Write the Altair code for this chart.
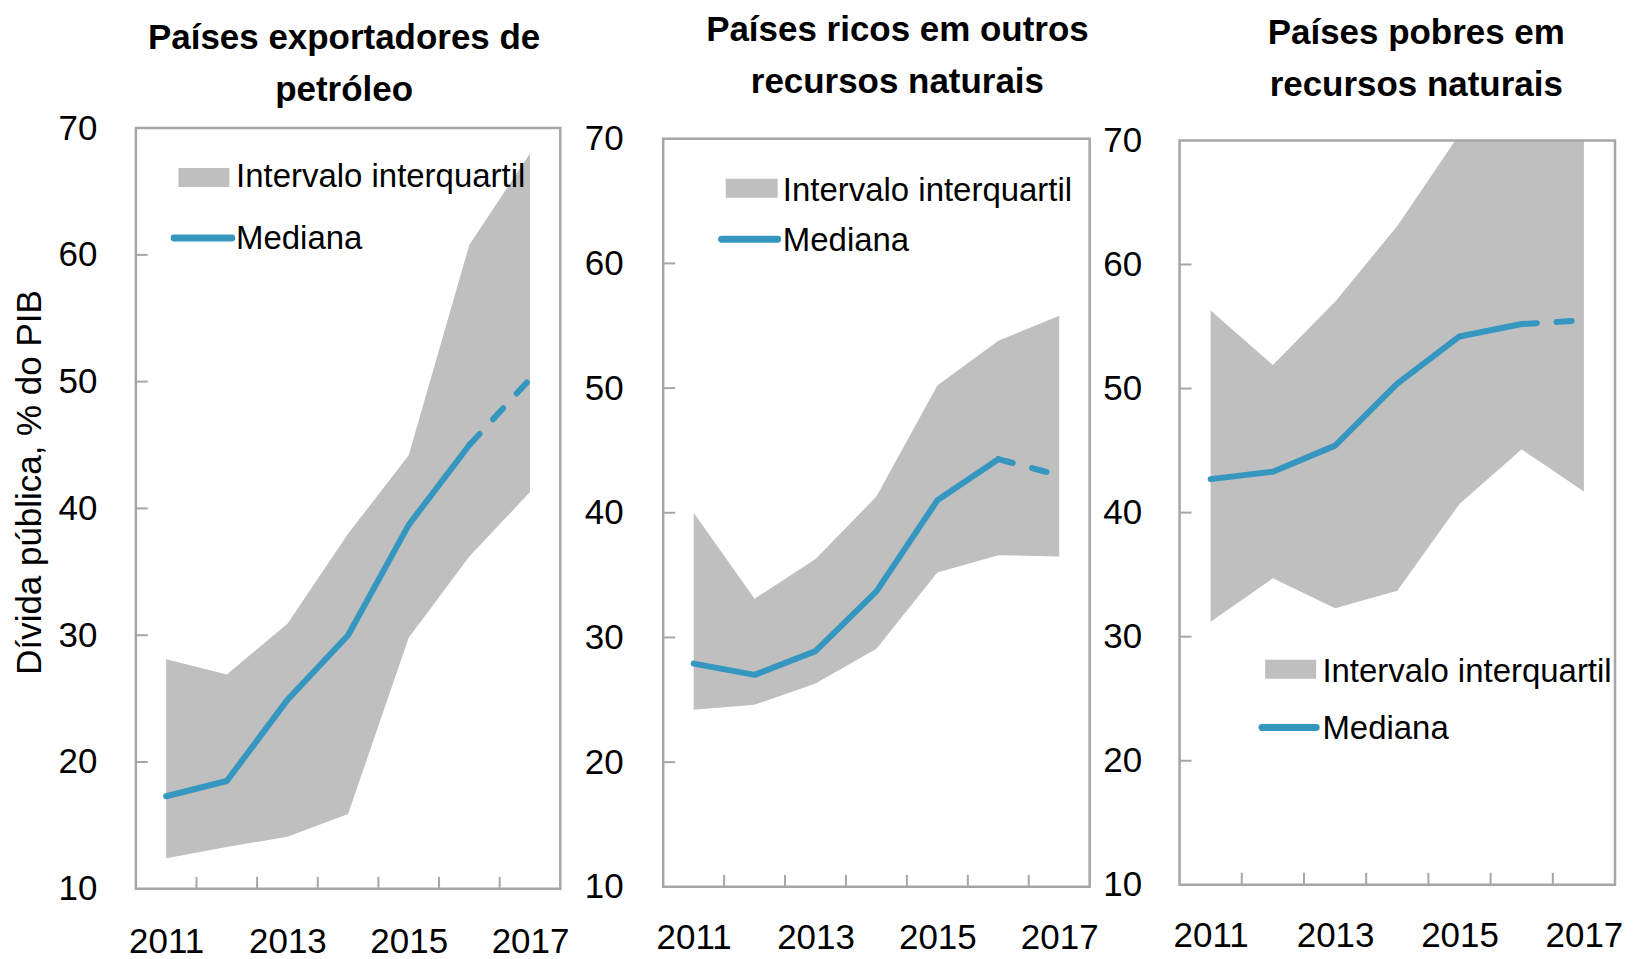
import altair as alt
import pandas as pd

years = [2011, 2012, 2013, 2014, 2015, 2016, 2017]

# Painel 1: Países exportadores de petróleo
p1_lo = [12.4, 13.3, 14.1, 15.9, 29.8, 36.2, 41.3]
p1_hi = [28.1, 26.9, 30.9, 38.0, 44.2, 60.8, 68.0]
p1_med = [17.3, 18.5, 24.9, 30.0, 38.7, 45.0, 50.2]

# Painel 2: Países ricos em outros recursos naturais
p2_lo = [24.2, 24.6, 26.3, 29.1, 35.2, 36.6, 36.5]
p2_hi = [40.0, 33.1, 36.3, 41.3, 50.2, 53.8, 55.8]
p2_med = [27.9, 27.0, 28.9, 33.7, 41.0, 44.3, 43.0]

# Painel 3: Países pobres em recursos naturais
p3_lo = [31.2, 34.7, 32.3, 33.7, 40.7, 45.1, 41.7]
p3_hi = [56.3, 51.9, 57.0, 63.1, 70.5, 74.0, 77.0]
p3_med = [42.7, 43.3, 45.4, 50.4, 54.2, 55.2, 55.5]

titles = [
    ["Países exportadores de", "petróleo"],
    ["Países ricos em outros", "recursos naturais"],
    ["Países pobres em", "recursos naturais"],
]
y_title = "Dívida pública, % do PIB"
legend_labels = ["Intervalo interquartil", "Mediana"]
y_ticks = [10, 20, 30, 40, 50, 60, 70]
y_inner_ticks = [20, 30, 40, 50, 60]
x_labels = [2011, 2013, 2015, 2017]
x_inner_ticks = [2011.5, 2012.5, 2013.5, 2014.5, 2015.5, 2016.5]

GRAY = "#BFBFBF"
BLUE = "#3597C0"
FRAME = "#A6A6A6"
FONT = "Liberation Sans"
VIEW_H = 749.3

panels = [
    dict(lo=p1_lo, hi=p1_hi, med=p1_med, w=425, yr=[749.3, -12.4], bottom=749.3,
         toff=3, tdx=-4, lpad=39, xpad=36, minext=None, ytitle=True,
         leg=dict(rx=(42.6, 93.6), ry=(27.6, 46.6), tx=100.3, t1=47.1, lx=(38.3, 96), ly=97.6, t2=108.8)),
    dict(lo=p2_lo, hi=p2_hi, med=p2_med, w=427, yr=[747.3, -1.7], bottom=747.3,
         toff=21.5, tdx=21, lpad=40, xpad=32, minext=90, ytitle=False,
         leg=dict(rx=(62.6, 114.6), ry=(38.3, 57.3), tx=119.8, t1=60.8, lx=(58.5, 114.6), ly=99, t2=110.8)),
    dict(lo=p3_lo, hi=p3_hi, med=p3_med, w=436, yr=[745.3, 0], bottom=745.3,
         toff=20.5, tdx=19, lpad=38, xpad=30, minext=None, ytitle=False,
         leg=dict(rx=(85.7, 136.8), ry=(520, 539), tx=143, t1=542.1, lx=(82.6, 136.8), ly=587.7, t2=599.5)),
]


def make_panel(i, p):
    df = pd.DataFrame({"ano": years, "lo": p["lo"], "hi": p["hi"], "med": p["med"]})
    xs = alt.Scale(domain=[2010.5, 2017.5], nice=False, zero=False)
    ys = alt.Scale(domain=[10, 70], nice=False, zero=False, range=p["yr"])
    yaxis_kw = dict(values=y_ticks, ticks=False, domain=False, grid=False,
                    labelFont=FONT, labelFontSize=35, labelColor="black",
                    labelPadding=p["lpad"])
    if p["ytitle"]:
        yaxis_kw.update(title=y_title, titleFont=FONT, titleFontSize=35,
                        titleFontWeight="normal", titleColor="black",
                        titleAngle=270, titleX=-106, titleY=342,
                        titleBaseline="middle", titleAlign="center")
    else:
        yaxis_kw.update(title=None)
    if p["minext"]:
        yaxis_kw.update(minExtent=p["minext"])
    yaxis = alt.Axis(**yaxis_kw)
    xaxis = alt.Axis(values=x_labels, format="d", ticks=False, domain=False,
                     grid=False, labelFont=FONT, labelFontSize=35,
                     labelColor="black", labelPadding=p["xpad"], labelFlush=False,
                     labelOverlap=False, title=None)

    def X(f):
        return alt.X(f, type="quantitative", scale=xs, axis=xaxis)

    def Y(f):
        return alt.Y(f, type="quantitative", scale=ys, axis=yaxis)

    base = alt.Chart(df)
    area = base.mark_area(color=GRAY, clip=True).encode(x=X("ano"), y=Y("lo"), y2="hi")
    solid = base.transform_filter("datum.ano <= 2016").mark_line(
        color=BLUE, strokeWidth=6, strokeCap="round", strokeJoin="round"
    ).encode(x=X("ano"), y=Y("med"))
    dashed = base.transform_filter("datum.ano >= 2016").mark_line(
        color=BLUE, strokeWidth=6, strokeCap="round", strokeDash=[15, 20]
    ).encode(x=X("ano"), y=Y("med"))

    frame = alt.Chart(alt.Data(values=[{"k": 1}])).mark_rect(
        fillOpacity=0, stroke=FRAME, strokeWidth=2.5
    ).encode(
        x=alt.XDatum(2010.5, type="quantitative", scale=xs, axis=xaxis),
        x2=alt.X2Datum(2017.5),
        y=alt.YDatum(70, type="quantitative", scale=ys, axis=yaxis),
        y2=alt.Y2Datum(10),
    )

    yt = alt.Chart(pd.DataFrame({"v": y_inner_ticks})).mark_rule(
        color=FRAME, strokeWidth=2
    ).encode(y=Y("v"), x=alt.value(0), x2=alt.value(12))
    xt = alt.Chart(pd.DataFrame({"b": x_inner_ticks})).mark_rule(
        color=FRAME, strokeWidth=2
    ).encode(x=X("b"), y=alt.value(p["bottom"]), y2=alt.value(p["bottom"] - 12))

    lg = p["leg"]
    one = alt.Data(values=[{"k": 1}])
    sw = alt.Chart(one).mark_rect(color=GRAY).encode(
        x=alt.value(lg["rx"][0]), x2=alt.value(lg["rx"][1]),
        y=alt.value(lg["ry"][0]), y2=alt.value(lg["ry"][1]))
    ln = alt.Chart(one).mark_rule(color=BLUE, strokeWidth=7, strokeCap="round").encode(
        x=alt.value(lg["lx"][0]), x2=alt.value(lg["lx"][1]), y=alt.value(lg["ly"]))
    t1 = alt.Chart(one).mark_text(text=legend_labels[0], align="left", baseline="alphabetic",
                                  font=FONT, fontSize=33, color="black").encode(
        x=alt.value(lg["tx"]), y=alt.value(lg["t1"]))
    t2 = alt.Chart(one).mark_text(text=legend_labels[1], align="left", baseline="alphabetic",
                                  font=FONT, fontSize=33, color="black").encode(
        x=alt.value(lg["tx"]), y=alt.value(lg["t2"]))

    return alt.layer(area, solid, dashed, frame, yt, xt, sw, ln, t1, t2).properties(
        width=p["w"], height=VIEW_H,
        title=alt.TitleParams(text=titles[i], font=FONT, fontSize=35, fontWeight="bold",
                              color="black", anchor="middle", dx=p["tdx"],
                              lineHeight=52, offset=p["toff"]),
    )


chart = alt.hconcat(*[make_panel(i, p) for i, p in enumerate(panels)], spacing=4).properties(
    padding={"left": 5, "top": 4, "right": 3, "bottom": 3},
    background="white",
).configure_view(stroke="transparent", strokeWidth=0)

chart.save("out.html", embed_options={"renderer": "svg", "actions": False})
